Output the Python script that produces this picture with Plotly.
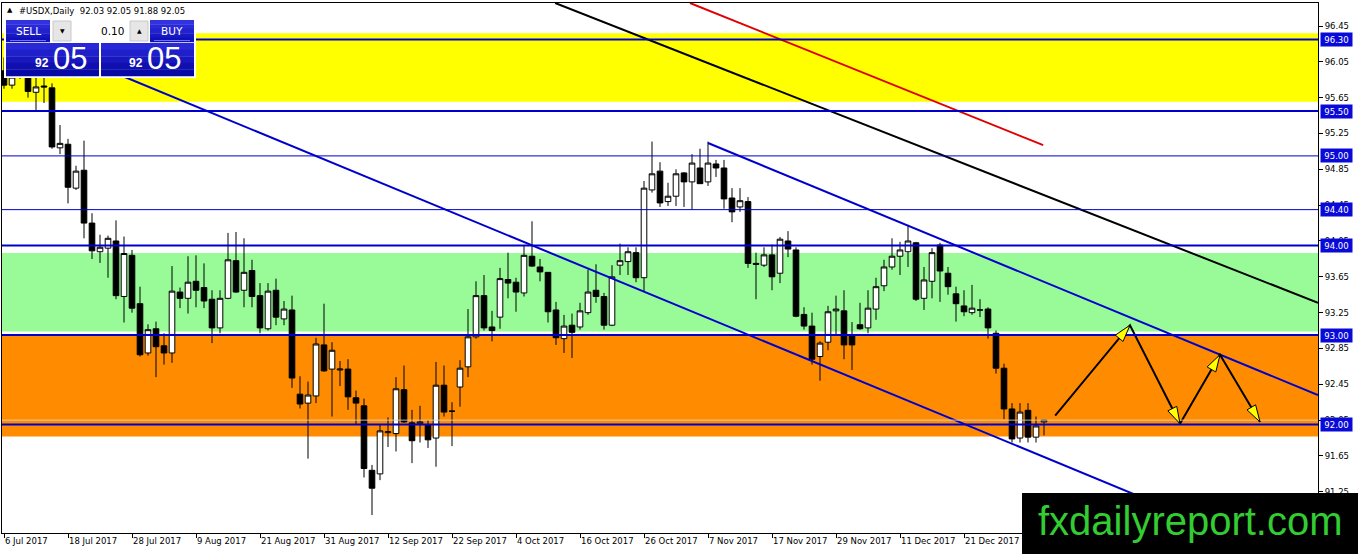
import plotly.graph_objects as go
import pandas as pd
import math

# ---------------- data ----------------
dates = pd.bdate_range("2017-07-06", periods=131)

opens = [95.95, 95.79, 95.90, 96.00, 95.71, 95.78, 95.76, 95.09, 95.13, 94.64,
         94.84, 94.25, 93.93, 93.97, 94.05, 93.43, 93.89, 93.35, 92.80, 93.07,
         92.88, 92.80, 93.48, 93.41, 93.60, 93.53, 93.40, 93.08, 93.41, 93.83,
         93.50, 93.72, 93.44, 93.07, 93.50, 93.18, 93.28, 92.34, 92.24, 92.32,
         92.89, 92.62, 92.61, 92.62, 92.30, 92.21, 91.49, 91.45, 91.91, 91.90,
         92.39, 92.02, 92.01, 92.00, 91.85, 92.44, 92.15, 92.42, 92.645, 92.98,
         93.44, 93.09, 93.20, 93.62, 93.59, 93.47, 93.88, 93.76, 93.70, 93.28,
         92.96, 93.11, 93.09, 93.25, 93.50, 93.43, 93.11, 93.78, 93.82, 93.92,
         93.64, 94.62, 94.83, 94.49, 94.55, 94.81, 94.71, 94.865, 94.71, 94.91,
         94.865, 94.53, 94.43, 94.49, 93.80, 93.78, 93.895, 93.69, 94.05, 93.95,
         93.23, 93.10, 92.76, 92.92, 93.27, 93.27, 93.00, 93.115, 93.08, 93.29,
         93.55, 93.76, 93.88, 93.93, 94.03, 93.41, 93.60, 94.005, 93.69, 93.46,
         93.325, 93.25, 93.28, 93.29, 93.02, 92.63, 92.175, 91.85, 92.16, 91.86,
         92.03]
highs = [96.10, 96.00, 96.05, 96.08, 96.00, 95.95, 95.81, 95.345, 95.19, 94.89,
         95.17, 94.36, 94.12, 94.11, 94.28, 94.10, 93.95, 93.54, 93.12, 93.15,
         93.02, 93.77, 93.53, 93.88, 93.89, 93.80, 93.50, 93.50, 94.14, 94.15,
         94.08, 93.84, 93.58, 93.58, 93.63, 93.38, 93.44, 92.54, 92.48, 92.97,
         93.35, 92.92, 92.71, 92.73, 92.38, 92.29, 91.55, 92.00, 92.08, 92.53,
         92.66, 92.165, 92.21, 92.05, 92.70, 92.66, 92.25, 92.72, 93.29, 93.60,
         93.67, 93.27, 93.75, 93.92, 93.64, 93.995, 94.27, 93.85, 93.70, 93.37,
         93.225, 93.24, 93.36, 93.73, 93.79, 93.47, 93.78, 94.02, 93.98, 93.98,
         94.72, 95.16, 94.93, 94.70, 94.85, 94.82, 95.02, 95.08, 95.16, 94.955,
         94.955, 94.64, 94.64, 94.54, 93.92, 93.98, 94.01, 94.095, 94.16, 93.98,
         93.31, 93.25, 92.93, 93.325, 93.44, 93.50, 93.145, 93.36, 93.50, 93.64,
         93.84, 94.08, 94.04, 94.23, 94.04, 93.76, 93.97, 94.03, 93.76, 93.54,
         93.50, 93.56, 93.40, 93.31, 93.05, 92.68, 92.24, 92.24, 92.24, 92.09,
         92.05]
lows = [95.75, 95.75, 95.86, 95.65, 95.51, 95.59, 95.08, 95.02, 94.47, 94.62,
        94.08, 93.85, 93.805, 93.64, 93.40, 93.14, 93.25, 92.76, 92.77, 92.53,
        92.67, 92.69, 93.30, 93.24, 93.31, 93.30, 92.91, 93.02, 93.40, 93.47,
        93.31, 93.31, 93.02, 93.05, 93.11, 93.11, 92.41, 92.18, 91.62, 92.24,
        92.59, 92.09, 92.43, 92.165, 92.00, 91.41, 90.99, 91.38, 91.75, 91.70,
        92.02, 91.57, 91.80, 91.74, 91.53, 92.09, 91.76, 92.20, 92.53, 92.96,
        93.05, 92.93, 93.07, 93.41, 93.26, 93.43, 93.76, 93.60, 93.14, 92.89,
        92.80, 92.745, 93.06, 93.225, 93.36, 93.06, 93.10, 93.67, 93.67, 93.59,
        93.48, 94.59, 94.43, 94.44, 94.44, 94.43, 94.40, 94.69, 94.665, 94.765,
        94.41, 94.26, 94.375, 93.75, 93.40, 93.76, 93.50, 93.58, 93.87, 93.20,
        93.06, 92.67, 92.49, 92.83, 93.00, 92.73, 92.61, 93.06, 93.02, 93.17,
        93.49, 93.73, 93.67, 93.76, 93.38, 93.28, 93.41, 93.37, 93.45, 93.15,
        93.21, 93.225, 93.20, 92.96, 92.57, 92.06, 91.80, 91.80, 91.80, 91.80,
        91.88]
closes = [95.79, 95.88, 96.00, 95.72, 95.77, 95.77, 95.10, 95.14, 94.65, 94.83,
          94.25, 93.94, 93.98, 94.08, 93.44, 93.91, 93.30, 92.78, 93.06, 92.87,
          92.80, 93.49, 93.41, 93.59, 93.50, 93.38, 93.08, 93.41, 93.84, 93.48,
          93.70, 93.43, 93.08, 93.49, 93.20, 93.29, 92.52, 92.23, 92.33, 92.90,
          92.60, 92.83, 92.62, 92.31, 92.24, 91.51, 91.29, 91.93, 91.92, 92.40,
          92.03, 91.82, 92.03, 91.83, 92.44, 92.14, 92.15, 92.63, 92.98, 93.44,
          93.08, 93.05, 93.63, 93.58, 93.48, 93.89, 93.77, 93.705, 93.26, 92.97,
          93.10, 93.03, 93.27, 93.48, 93.43, 93.11, 93.65, 93.83, 93.93, 93.64,
          94.64, 94.80, 94.475, 94.55, 94.80, 94.71, 94.92, 94.69, 94.92, 94.865,
          94.52, 94.375, 94.50, 93.80, 93.79, 93.895, 93.65, 94.07, 93.96, 93.21,
          93.10, 92.73, 92.91, 93.26, 93.29, 92.89, 92.89, 93.07, 93.30, 93.54,
          93.76, 93.88, 93.95, 94.05, 93.40, 93.615, 93.92, 93.715, 93.54, 93.35,
          93.26, 93.30, 93.28, 93.08, 92.63, 92.175, 91.84, 92.14, 91.86, 91.985,
          92.05]

tick_labels = ["6 Jul 2017", "18 Jul 2017", "28 Jul 2017", "9 Aug 2017", "21 Aug 2017",
               "31 Aug 2017", "12 Sep 2017", "22 Sep 2017", "4 Oct 2017", "16 Oct 2017",
               "26 Oct 2017", "7 Nov 2017", "17 Nov 2017", "29 Nov 2017", "11 Dec 2017",
               "21 Dec 2017"]
y_ticks = [91.25, 91.65, 92.05, 92.45, 92.85, 93.25, 93.65, 94.05, 94.45, 94.85,
           95.25, 95.65, 96.05, 96.45]

# horizontal levels and zones
levels = [96.30, 95.50, 95.00, 94.40, 94.00, 93.00, 92.00]
level_widths = [2, 2, 1, 1, 2, 2, 2]
zone_lo = [95.605, 93.04, 91.866]
zone_hi = [96.37, 93.917, 92.99]
zone_colors = ["#FFFF00", "#98FB98", "#FF8C00"]
bid_price = 92.05

# trend lines (index, price)
blue_low_x, blue_low_y = [12, 150], [95.995, 90.90]
blue_up_x, blue_up_y = [88, 164.25], [95.144, 92.33]
black_x, black_y = [68.9, 164.25], [96.707, 93.36]
red_x, red_y = [85.75, 129.9], [96.707, 95.12]
zig_x = [131.4, 140.75, 147.0, 152.0, 157.0]
zig_y = [92.10, 93.11, 92.01, 92.78, 92.03]

# ---------------- geometry ----------------
W, H = 1358, 554
ML, MR, MT, MB = 2, 40, 3, 21
PW, PH = W - ML - MR, H - MT - MB
X_RANGE = [-0.25, 164.25]
Y_RANGE = [90.79, 96.707]
XU = (X_RANGE[1] - X_RANGE[0]) / PW   # data units per px
YU = (Y_RANGE[1] - Y_RANGE[0]) / PH
LINE_BLUE = "#0000CD"


def px(x):
    return (x - ML) / PW


def py(y):
    return (H - MB - y) / PH


date_labels = [f"{d.day} {d.strftime('%b %Y')}" for d in dates]
tick_pos = [date_labels.index(t) for t in tick_labels]
xi = list(range(len(dates)))

fig = go.Figure()

fig.add_trace(go.Candlestick(
    x=xi, open=opens, high=highs, low=lows, close=closes,
    increasing=dict(line=dict(color="black", width=1), fillcolor="white"),
    decreasing=dict(line=dict(color="black", width=1), fillcolor="black"),
    whiskerwidth=0, showlegend=False, hoverinfo="skip"))

for xs, ys, col in [(blue_low_x, blue_low_y, LINE_BLUE), (blue_up_x, blue_up_y, LINE_BLUE),
                    (black_x, black_y, "black"), (red_x, red_y, "#E00000")]:
    fig.add_trace(go.Scatter(x=xs, y=ys, mode="lines", line=dict(color=col, width=2),
                             showlegend=False, hoverinfo="skip"))

fig.add_trace(go.Scatter(x=zig_x, y=zig_y, mode="lines", line=dict(color="black", width=2),
                         showlegend=False, hoverinfo="skip"))

shapes = []
for lo, hi, c in zip(zone_lo, zone_hi, zone_colors):
    shapes.append(dict(type="rect", xref="paper", yref="y", x0=0, x1=1, y0=lo, y1=hi,
                       fillcolor=c, line=dict(width=0), layer="below"))
for lv, lw in zip(levels, level_widths):
    shapes.append(dict(type="line", xref="paper", yref="y", x0=0, x1=1, y0=lv, y1=lv,
                       line=dict(color=LINE_BLUE, width=lw), layer="above"))
shapes.append(dict(type="line", xref="paper", yref="y", x0=0, x1=1, y0=bid_price, y1=bid_price,
                   line=dict(color="rgba(215,215,215,0.85)", width=1), layer="above"))

# arrow heads (yellow)
for k in range(1, len(zig_x)):
    x0p, y0p = zig_x[k - 1] / XU, zig_y[k - 1] / YU
    x1p, y1p = zig_x[k] / XU, zig_y[k] / YU
    dx, dy = x1p - x0p, y1p - y0p
    L = math.hypot(dx, dy)
    ux, uy = dx / L, dy / L
    hl, hw = 17, 5
    bx, by = x1p - ux * hl, y1p - uy * hl
    pts = [(x1p, y1p), (bx - uy * hw, by + ux * hw), (bx + uy * hw, by - ux * hw)]
    path = "M " + " L ".join(f"{p[0]*XU:.4f},{p[1]*YU:.4f}" for p in pts) + " Z"
    shapes.append(dict(type="path", xref="x", yref="y", path=path, fillcolor="#FFFF00",
                       line=dict(color="black", width=1), layer="above"))

annotations = []


def blue_rect(x0, y0, x1, y1, top, bot, n=5):
    def mix(a, b, t):
        return "#%02x%02x%02x" % tuple(int(a[i] + (b[i] - a[i]) * t) for i in range(3))
    h = (y1 - y0) / n
    for j in range(n):
        shapes.append(dict(type="rect", xref="paper", yref="paper",
                           x0=px(x0), x1=px(x1), y0=py(y0 + j * h), y1=py(y0 + (j + 1) * h + 0.3),
                           fillcolor=mix(top, bot, j / (n - 1)), line=dict(width=0), layer="above"))


# trading panel
shapes.append(dict(type="rect", xref="paper", yref="paper", x0=px(4), x1=px(196), y0=py(18), y1=py(78),
                   fillcolor="white", line=dict(width=0), layer="above"))
blue_rect(6, 20, 50, 42, (50, 50, 225), (16, 16, 185))
blue_rect(150, 20, 194, 42, (50, 50, 225), (16, 16, 185))
blue_rect(6, 43, 99, 76, (40, 40, 215), (8, 8, 165))
blue_rect(101, 43, 194, 76, (40, 40, 215), (8, 8, 165))
shapes.append(dict(type="rect", xref="paper", yref="paper", x0=px(53), x1=px(71), y0=py(21), y1=py(41),
                   fillcolor="#E6E6E6", line=dict(color="#C8C8C8", width=1), layer="above"))
shapes.append(dict(type="rect", xref="paper", yref="paper", x0=px(130), x1=px(148), y0=py(21), y1=py(41),
                   fillcolor="#E6E6E6", line=dict(color="#C8C8C8", width=1), layer="above"))
for xa, xb in [(10, 46), (154, 190)]:
    shapes.append(dict(type="line", xref="paper", yref="paper", x0=px(xa), x1=px(xb), y0=py(40.5), y1=py(40.5),
                       line=dict(color="#7070F0", width=1), layer="above"))

# watermark
shapes.append(dict(type="rect", xref="paper", yref="paper", x0=px(1022), x1=px(1362), y0=py(557), y1=py(493),
                   fillcolor="black", line=dict(width=0), layer="above"))

FONT = "DejaVu Sans"


def txt(x, y, s, size, color="black", xanchor="center", family=FONT):
    annotations.append(dict(xref="paper", yref="paper", x=px(x), y=py(y), text=s, showarrow=False,
                            xanchor=xanchor, yanchor="middle",
                            font=dict(family=family, size=size, color=color)))


txt(10, 10, "▲", 7)
txt(17, 11, "#USDX,Daily  92.03 92.05 91.88 92.05", 8.5, xanchor="left")
txt(28, 31, "SELL", 10.5, "white")
txt(172, 31, "BUY", 10.5, "white")
txt(126, 31, "0.10", 10.5, xanchor="right")
txt(62, 31, "▼", 6)
txt(139, 31, "▲", 6)
txt(42, 63, "<b>92</b>", 12, "white", family="Liberation Sans")
txt(70, 59, "05", 31, "white", family="Liberation Sans")
txt(136, 63, "<b>92</b>", 12, "white", family="Liberation Sans")
txt(164, 59, "05", 31, "white", family="Liberation Sans")
txt(1190, 521, "fxdailyreport.com", 40, "#33CC33", family="Liberation Sans")

for lv in levels:
    annotations.append(dict(xref="paper", yref="y", x=1, y=lv, xanchor="left", yanchor="middle",
                            xshift=2, text=f"{lv:.2f}", showarrow=False, bgcolor="#0A0AD8",
                            width=29, height=11, borderpad=1,
                            font=dict(family=FONT, size=8.5, color="white")))

fig.update_layout(
    width=W, height=H,
    margin=dict(l=ML, r=MR, t=MT, b=MB),
    paper_bgcolor="white", plot_bgcolor="white",
    showlegend=False,
    boxgap=0.3, boxgroupgap=0,
    shapes=shapes, annotations=annotations,
    font=dict(family=FONT, size=8.5, color="black"),
    xaxis=dict(range=X_RANGE, tickvals=tick_pos, ticktext=tick_labels, showgrid=False, zeroline=False,
               showline=True, linecolor="black", linewidth=1, mirror=True,
               ticks="outside", ticklen=4, tickcolor="black", ticklabelposition="outside right",
               rangeslider=dict(visible=False), fixedrange=True,
               tickfont=dict(family=FONT, size=8.5, color="black")),
    yaxis=dict(range=Y_RANGE, side="right", tickvals=y_ticks, ticktext=[f"{v:.2f}" for v in y_ticks],
               showgrid=False, zeroline=False, showline=True, linecolor="black", linewidth=1, mirror=True,
               ticks="outside", ticklen=4, tickcolor="black", fixedrange=True,
               tickfont=dict(family=FONT, size=8.5, color="black")),
)

fig.write_html("out.html", config={"displayModeBar": False},
               post_script="document.body.style.margin='0';document.body.style.overflow='hidden';")
